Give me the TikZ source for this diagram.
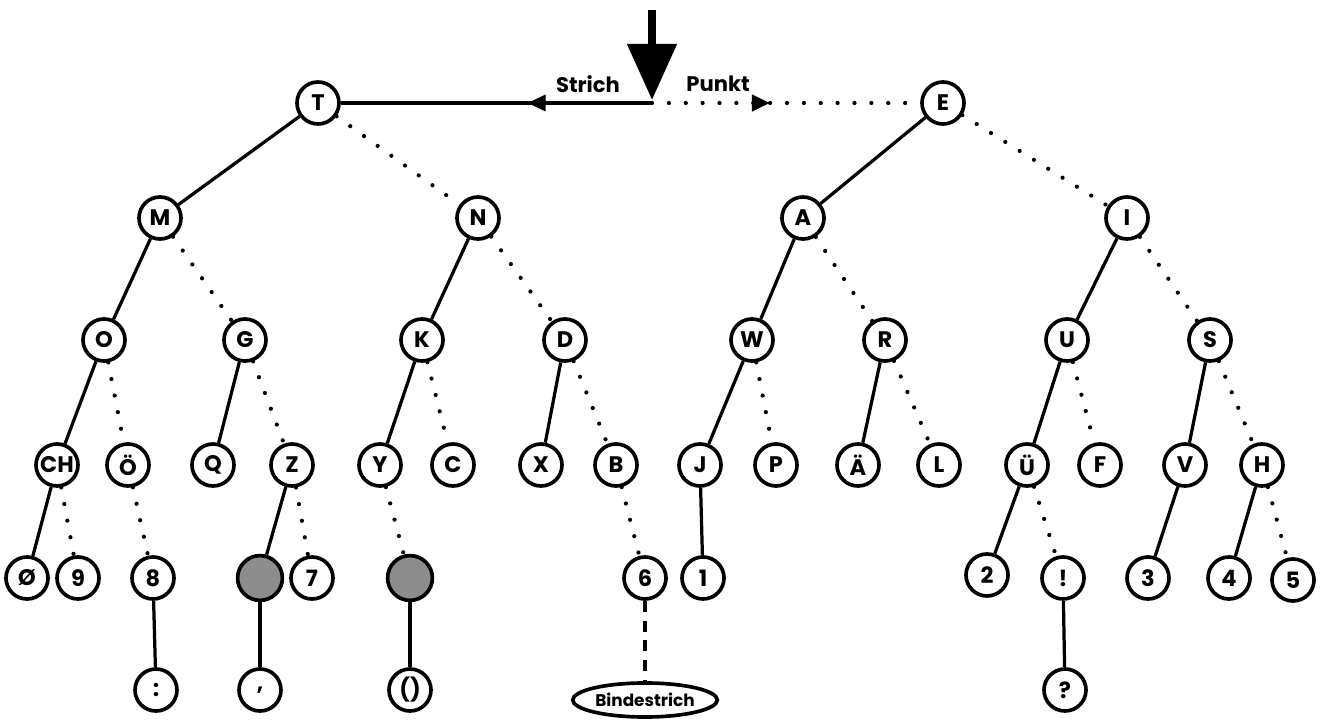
\documentclass[tikz,border=0pt]{standalone}
\usepackage{fontspec}
\setmainfont{Poppins}
\usepackage{tikz}
\usetikzlibrary{positioning}
\usetikzlibrary{arrows.meta,decorations.markings,shapes.geometric}

\tikzset{
	letter/.style={circle, draw, line width=2.6pt, minimum size=1.05cm, inner sep=0pt, font=\fontsize{16}{16}\selectfont\bfseries},
	greyletter/.style={letter, fill=black!45, minimum size=1.12cm},
	strichline/.style={line width=2.3pt},
	punktline/.style={line width=3pt, line cap=round, dash pattern=on 0pt off 12pt},
	bindeline/.style={line width=2.3pt, dash pattern=on 8pt off 6pt},
}

\begin{document}
\begin{tikzpicture}[x=0.025cm, y=-0.025cm]
	\useasboundingbox (0,0) rectangle (1335,720);

	% ---------------------
	% Entry & first split
	\coordinate (Entry) at (652,10);
	\coordinate (Junction) at (652,103);
	\draw[line width=0.2cm, -{Triangle[length=1.4cm, width=1.2cm]}] (Entry) -- (652,100);

	\node[letter] (T) at (318,103) {T};
	\node[letter] (E) at (943,103) {E};

	\draw[strichline, postaction={decorate}, decoration={markings, mark=at position 0.4 with {\arrow{Triangle[length=0.45cm, width=0.4cm]}}}] (Junction) -- (T);
	\draw[punktline, postaction={decorate}, decoration={markings, mark=at position 0.44 with {\arrow{Triangle[length=0.45cm, width=0.4cm]}}}] (Junction) -- (E);

	\node[font=\fontsize{15}{15}\selectfont\bfseries] (Strich) at (588,84) {Strich};
	\node[font=\fontsize{15}{15}\selectfont\bfseries] (Punkt) at (718,84) {Punkt};

	% ---------------------
	% Second level
	\node[letter] (M) at (160,218) {M};
	\node[letter] (N) at (478,218) {N};
	\node[letter] (A) at (803,218) {A};
	\node[letter] (I) at (1127,218) {I};

	% ---------------------
	% Third level
	\node[letter] (O) at (104,340) {O};
	\node[letter] (G) at (245,340) {G};
	\node[letter] (K) at (422,340) {K};
	\node[letter] (D) at (565,340) {D};
	\node[letter] (W) at (752,340) {W};
	\node[letter] (R) at (885,340) {R};
	\node[letter] (U) at (1067,340) {U};
	\node[letter] (S) at (1210,340) {S};

	% ---------------------
	% Fourth level
	\node[letter] (CH) at (57,465) {CH};
	\node[letter] (Oe) at (128,465) {Ö};
	\node[letter] (Q) at (213,465) {Q};
	\node[letter] (Z) at (292,465) {Z};
	\node[letter] (Y) at (380,465) {Y};
	\node[letter] (C) at (453,465) {C};
	\node[letter] (X) at (541,465) {X};
	\node[letter] (B) at (616,465) {B};
	\node[letter] (J) at (700,465) {J};
	\node[letter] (P) at (776,465) {P};
	\node[letter] (Ae) at (858,465) {Ä};
	\node[letter] (L) at (939,465) {L};
	\node[letter] (Ue) at (1027,465) {Ü};
	\node[letter] (F) at (1100,465) {F};
	\node[letter] (V) at (1185,465) {V};
	\node[letter] (H) at (1262,465) {H};

	% ---------------------
	% Fifth level
	\node[letter] (Zero) at (27,578) {Ø};
	\node[letter] (Nine) at (78,578) {9};
	\node[letter] (Eight) at (153,578) {8};
	\node[greyletter] (GreyZ) at (260,578) {};
	\node[letter] (Seven) at (312,578) {7};
	\node[greyletter] (GreyY) at (410,578) {};
	\node[letter] (Six) at (645,578) {6};
	\node[letter] (One) at (703,578) {1};
	\node[letter] (Two) at (987,575) {2};
	\node[letter] (Excl) at (1063,578) {!};
	\node[letter] (Three) at (1148,578) {3};
	\node[letter] (Four) at (1229,578) {4};
	\node[letter] (Five) at (1293,580) {5};

	% ---------------------
	% Sixth level
	\node[letter] (Colon) at (156,690) {:};
	\node[letter] (Comma) at (260,690) {,};
	\node[letter] (Paren) at (410,690) {()};
	\node[letter] (Quest) at (1065,690) {?};
	\node[ellipse, draw, line width=2.6pt, minimum width=3.4cm, minimum height=0.85cm, inner sep=1pt, font=\fontsize{12}{12}\selectfont\bfseries] (Binde) at (645,700) {Bindestrich};

	% ------------------------------------------------
	% Strich branches
	\draw[strichline] (T) -- (M);
	\draw[strichline] (M) -- (O);
	\draw[strichline] (O) -- (CH);
	\draw[strichline] (CH) -- (Zero);
	\draw[strichline] (G) -- (Q);
	\draw[strichline] (Z) -- (GreyZ);
	\draw[strichline] (GreyZ) -- (Comma);
	\draw[strichline] (Eight) -- (Colon);
	\draw[strichline] (N) -- (K);
	\draw[strichline] (K) -- (Y);
	\draw[strichline] (GreyY) -- (Paren);
	\draw[strichline] (D) -- (X);
	\draw[strichline] (E) -- (A);
	\draw[strichline] (A) -- (W);
	\draw[strichline] (W) -- (J);
	\draw[strichline] (J) -- (One);
	\draw[strichline] (R) -- (Ae);
	\draw[strichline] (I) -- (U);
	\draw[strichline] (U) -- (Ue);
	\draw[strichline] (Ue) -- (Two);
	\draw[strichline] (Excl) -- (Quest);
	\draw[strichline] (S) -- (V);
	\draw[strichline] (V) -- (Three);
	\draw[strichline] (H) -- (Four);

	% ------------------------------------------------
	% Punkt branches
	\draw[punktline] (T) -- (N);
	\draw[punktline] (M) -- (G);
	\draw[punktline] (O) -- (Oe);
	\draw[punktline] (CH) -- (Nine);
	\draw[punktline] (Oe) -- (Eight);
	\draw[punktline] (G) -- (Z);
	\draw[punktline] (Z) -- (Seven);
	\draw[punktline] (N) -- (D);
	\draw[punktline] (K) -- (C);
	\draw[punktline] (Y) -- (GreyY);
	\draw[punktline] (D) -- (B);
	\draw[punktline] (B) -- (Six);
	\draw[punktline] (E) -- (I);
	\draw[punktline] (A) -- (R);
	\draw[punktline] (W) -- (P);
	\draw[punktline] (R) -- (L);
	\draw[punktline] (I) -- (S);
	\draw[punktline] (U) -- (F);
	\draw[punktline] (Ue) -- (Excl);
	\draw[punktline] (S) -- (H);
	\draw[punktline] (H) -- (Five);

	% ------------------------------------------------
	% Bindestrich
	\draw[bindeline] (Six) -- (Binde);

\end{tikzpicture}
\end{document}
